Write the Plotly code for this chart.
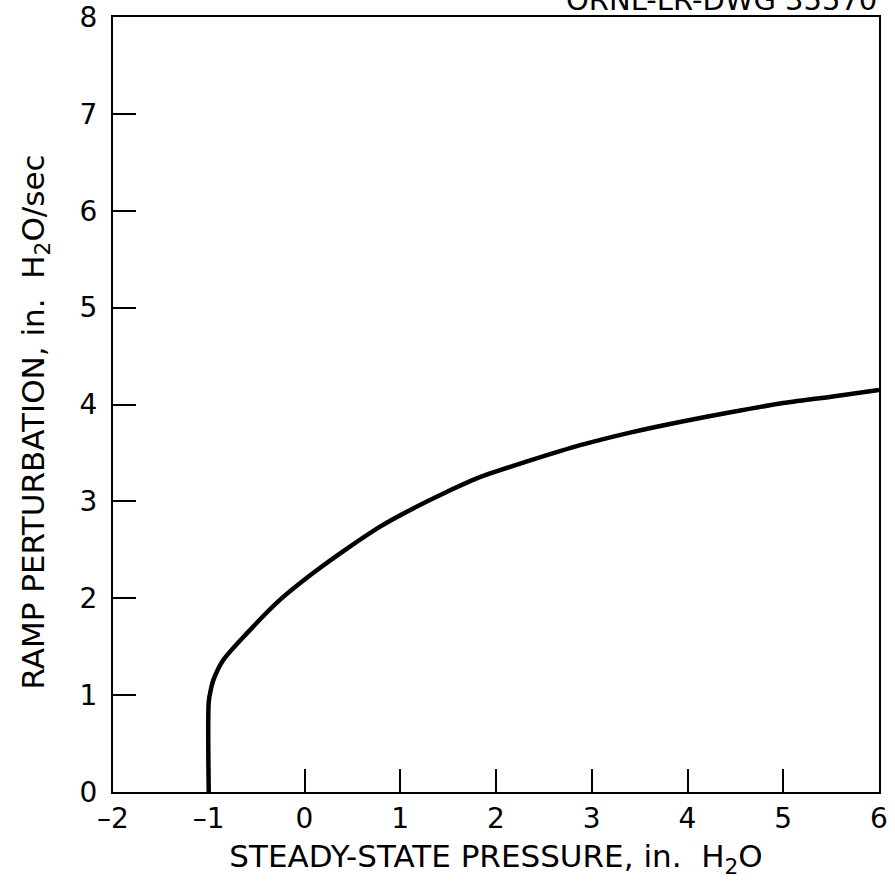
import plotly.graph_objects as go

pressure = [-1.0, -1.0, -0.98, -0.95, -0.85, -0.6, -0.26, 0.09, 0.44, 0.79, 1.14, 1.49, 1.83,
            2.35, 2.88, 3.4, 3.92, 4.45, 4.97, 5.5, 6.0]
ramp = [0.0, 0.93, 1.05, 1.16, 1.36, 1.64, 1.98, 2.26, 2.51, 2.74, 2.93, 3.10, 3.25,
        3.42, 3.58, 3.71, 3.82, 3.92, 4.01, 4.08, 4.15]

x_ticks = [-2, -1, 0, 1, 2, 3, 4, 5, 6]
y_ticks = [0, 1, 2, 3, 4, 5, 6, 7, 8]

FONT = "DejaVu Sans"

fig = go.Figure()
fig.add_trace(go.Scatter(x=pressure, y=ramp, mode="lines", line_shape="spline",
                         line=dict(color="black", width=4.5, smoothing=0.8), showlegend=False))

axis_common = dict(showgrid=False, zeroline=False, showline=True, linecolor="black",
                   linewidth=2, mirror=True, ticks="inside", ticklen=23, tickwidth=2,
                   tickcolor="black", automargin=False,
                   tickfont=dict(family=FONT, size=28, color="black"))

fig.update_xaxes(range=[-2, 6], tickvals=x_ticks,
                 ticktext=[str(v).replace("-", "\u2013") for v in x_ticks],
                 title=dict(text="STEADY-STATE PRESSURE, in.  H<sub>2</sub>O",
                            font=dict(family=FONT, size=31, color="black"), standoff=12),
                 **axis_common)
fig.update_yaxes(range=[0, 8], tickvals=y_ticks, ticklabelstandoff=8, **axis_common)

fig.add_annotation(text="RAMP PERTURBATION, in.  H<sub>2</sub>O/sec", xref="paper", yref="paper",
                   x=0, y=0.5, xshift=-78, yshift=-18, textangle=-90, showarrow=False,
                   xanchor="center", yanchor="middle",
                   font=dict(family=FONT, size=31, color="black"))

fig.add_annotation(text="ORNL-LR-DWG 35570", xref="paper", yref="paper", x=1.0, y=1.0,
                   xanchor="right", yanchor="middle", yshift=17, showarrow=False,
                   font=dict(family=FONT, size=29, color="black"))

fig.update_layout(width=895, height=887, margin=dict(l=113, r=16, t=17, b=95),
                  plot_bgcolor="white", paper_bgcolor="white")

fig.write_html("out.html")
